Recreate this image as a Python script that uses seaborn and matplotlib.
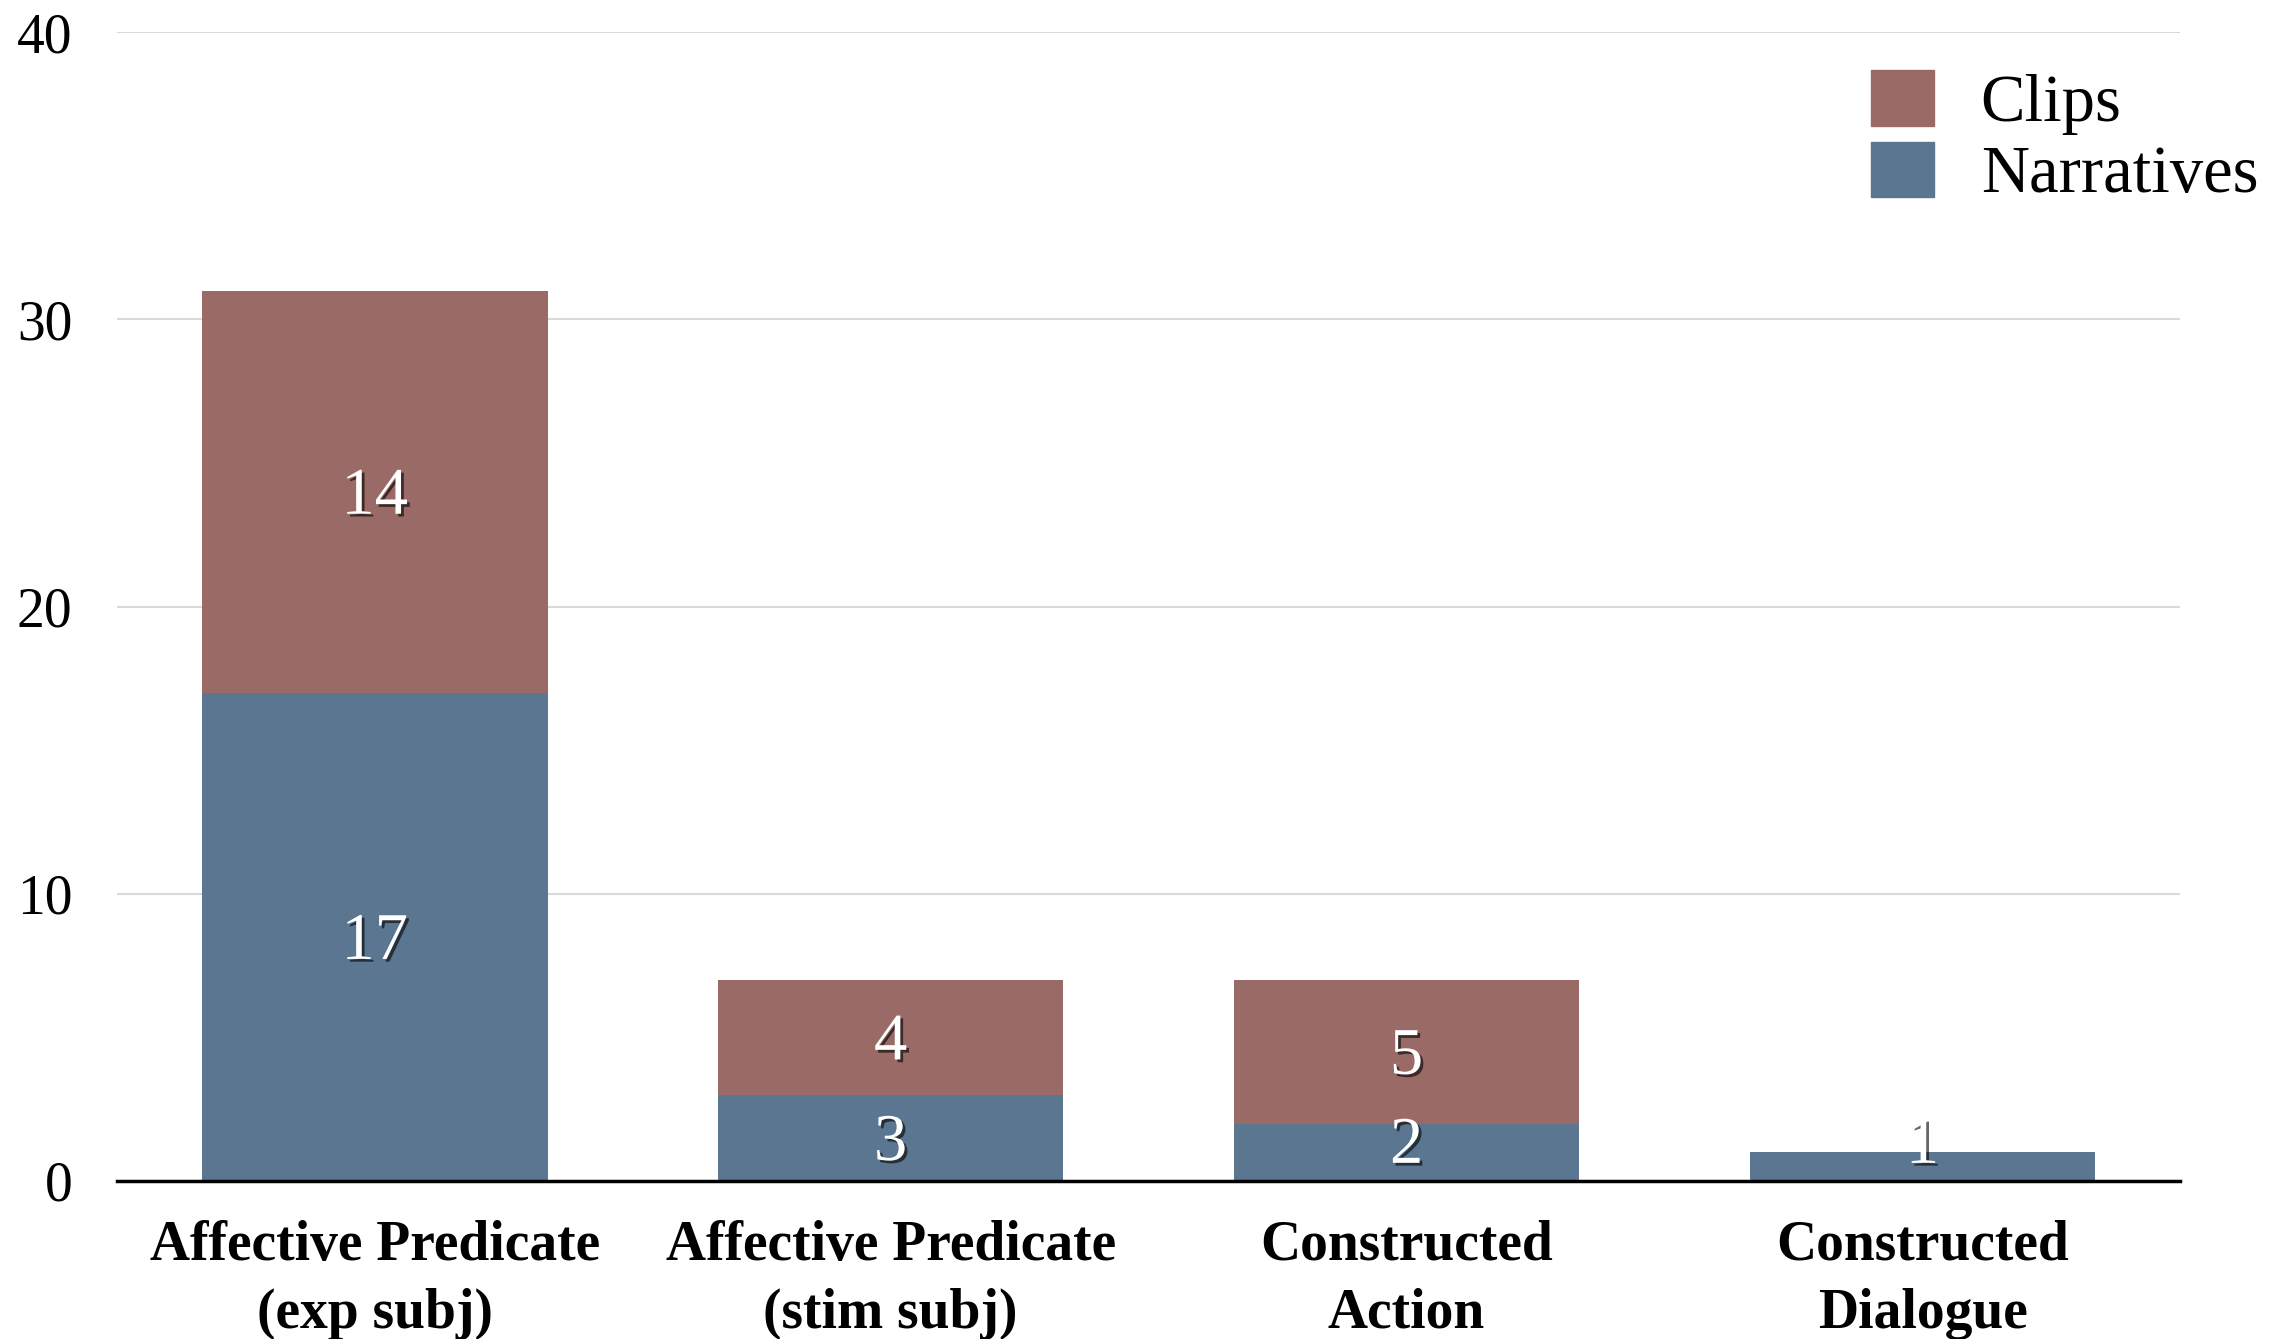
import numpy as np
import pandas as pd
import matplotlib
matplotlib.use('Agg')
import matplotlib.pyplot as plt
import matplotlib.patheffects as pe
from matplotlib.patches import Patch
import seaborn as sns

categories = ['Affective Predicate\n(exp subj)', 'Affective Predicate\n(stim subj)',
              'Constructed\nAction', 'Constructed\nDialogue']
narratives = [17, 3, 2, 1]
clips = [14, 4, 5, 0]

clip_col = '#9a6b66'
narr_col = '#5b7690'

sns.set_theme(style='white')
plt.rcParams['font.family'] = ['Liberation Serif', 'DejaVu Serif']
plt.rcParams['text.color'] = 'black'
plt.rcParams['xtick.color'] = 'black'
plt.rcParams['ytick.color'] = 'black'

df = pd.DataFrame({'cat': categories, 'narr': narratives, 'clips': clips})
df['total'] = df['narr'] + df['clips']

fig = plt.figure(figsize=(22.88, 13.39), dpi=100)
ax = fig.add_axes([0.051, 0.118, 0.902, 0.858])

# stacked: totals first (clips colour), narratives drawn over the bottom
sns.barplot(data=df, x='cat', y='total', color=clip_col, width=0.67, saturation=1,
            linewidth=0, ax=ax)
sns.barplot(data=df, x='cat', y='narr', color=narr_col, width=0.67, saturation=1,
            linewidth=0, ax=ax)

shadow = [pe.SimplePatchShadow(offset=(2, -2), shadow_rgbFace='black', alpha=0.6), pe.Normal()]
def label(x, y, s):
    ax.annotate(s, (x, y), xytext=(0, -4), textcoords='offset points', ha='center',
                va='center', color='white', fontsize=48, path_effects=shadow)

for i, (n, c) in enumerate(zip(narratives, clips)):
    if n:
        label(i, max(n / 2, 1.4), str(n))
    if c:
        label(i, n + c / 2, str(c))

ax.set_ylim(0, 40)
ax.set_xlim(-0.5, 3.5)
ax.set_yticks([0, 10, 20, 30, 40])
ax.yaxis.grid(True, color='#d9d9d9', linewidth=1.5)
ax.set_axisbelow(True)
for s in ['top', 'right', 'left']:
    ax.spines[s].set_visible(False)
ax.spines['bottom'].set_color('black')
ax.spines['bottom'].set_linewidth(2.5)
ax.spines['bottom'].set_zorder(5)
ax.set_xlabel('')
ax.set_ylabel('')
ax.tick_params(axis='y', labelsize=40, pad=32, length=0)
ax.tick_params(axis='x', labelsize=40, pad=28, length=0)
for lab in ax.get_xticklabels():
    lab.set_fontweight('bold')
    lab.set_linespacing(1.4)

handles = [Patch(color=clip_col, label='Clips'), Patch(color=narr_col, label='Narratives')]
ax.legend(handles=handles, loc='upper left', bbox_to_anchor=(0.837, 0.99), frameon=False,
          fontsize=48, handlelength=0.95, handleheight=0.9, handletextpad=0.7,
          labelspacing=0.1, borderaxespad=0)

fig.savefig('out.png', dpi=100)
